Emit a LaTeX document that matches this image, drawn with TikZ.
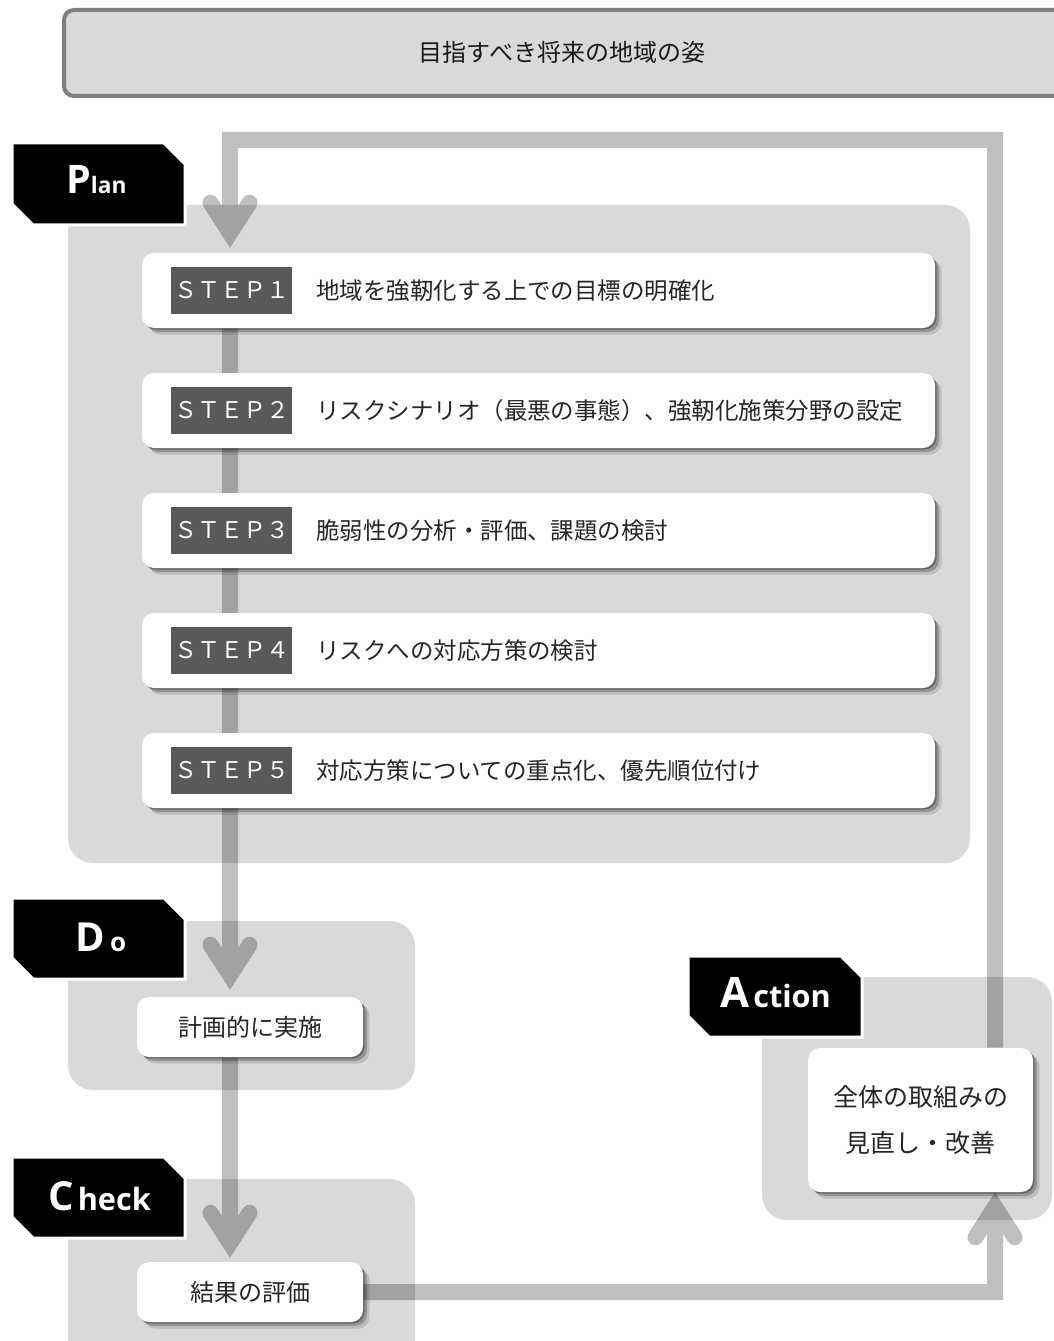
\documentclass[tikz,border=0pt]{standalone}
\usepackage{fontspec}
\setmainfont{Noto Sans CJK JP}
\newfontfamily\labfont{Open Sans}
\usetikzlibrary{shadows}
\pgfdeclarelayer{bg}
\pgfdeclarelayer{arw}
\pgfsetlayers{bg,arw,main}
\definecolor{panelgray}{HTML}{D9D9D9}
\definecolor{titleborder}{HTML}{7F7F7F}
\definecolor{stepgray}{HTML}{595959}
\definecolor{txt}{HTML}{262626}
\tikzset{
  whitebox/.style={fill=white, rounded corners=9pt, inner sep=0pt, text=txt,
    drop shadow={shadow xshift=1.2pt, shadow yshift=-1.2pt, opacity=.3, fill=black},
    drop shadow={shadow xshift=3pt, shadow yshift=-3pt, opacity=.22, fill=black},
    drop shadow={shadow xshift=5pt, shadow yshift=-5pt, opacity=.12, fill=black}},
  stepbox/.style={whitebox, minimum width=594.75pt, minimum height=56.25pt},
  steplabel/.style={fill=stepgray, text=white, inner sep=0pt, minimum width=90.75pt,
    minimum height=35.25pt, font=\fontsize{17.25pt}{20pt}\selectfont},
  steptext/.style={anchor=west, inner sep=0pt, text=txt, font=\fontsize{17.6pt}{20pt}\selectfont},
  flowline/.style={draw=black, line width=12pt},
  headdown/.pic={\draw[line width=12pt, line cap=round, line join=miter] (-19.6,-45) -- (0,-14.7) -- (19.6,-45);},
  pdcatext/.style={anchor=base west, inner sep=0pt, text=white},
}
\newcommand\pdcashape[4]{\draw[fill=black, draw=white, line width=2.25pt]
  (#1,#2) -- ({#3-21},#2) -- (#3,{#2+21}) -- (#3,#4) -- ({#1+21},#4) -- (#1,{#4-21}) -- cycle;}
\begin{document}
\begin{tikzpicture}[x=0.75pt,y=-0.75pt]
\path[use as bounding box] (0,0) rectangle (1053,1341);
\begin{pgfonlayer}{bg}
\fill[white] (0,0) rectangle (1053,1341);
\fill[panelgray, rounded corners=18.75pt] (68,205) rectangle (970,863);
\fill[panelgray, rounded corners=18.75pt] (68,921) rectangle (415,1090);
\fill[panelgray, rounded corners=18.75pt] (68,1179) rectangle (415,1380);
\fill[panelgray, rounded corners=18.75pt] (762,977) rectangle (1052,1220);
\end{pgfonlayer}

% title
\draw[fill=panelgray, draw=titleborder, line width=3pt, rounded corners=7.5pt] (64,10) rectangle (1100,96);
\node[text=black!90, font=\fontsize{18pt}{20pt}\selectfont] (goal) at (562,52) {目指すべき将来の地域の姿};

% steps
\node[stepbox] (s1) at (538.5,290.5) {};
\node[steplabel] (l1) at (231.5,290.5) {ＳＴＥＰ１};
\node[steptext] (t1) at (316,290.5) {地域を強靭化する上での目標の明確化};

\node[stepbox] (s2) at (538.5,410.5) {};
\node[steplabel] (l2) at (231.5,410.5) {ＳＴＥＰ２};
\node[steptext] (t2) at (316,410.5) {リスクシナリオ（最悪の事態）、強靭化施策分野の設定};

\node[stepbox] (s3) at (538.5,530.5) {};
\node[steplabel] (l3) at (231.5,530.5) {ＳＴＥＰ３};
\node[steptext] (t3) at (316,530.5) {脆弱性の分析・評価、課題の検討};

\node[stepbox] (s4) at (538.5,650.5) {};
\node[steplabel] (l4) at (231.5,650.5) {ＳＴＥＰ４};
\node[steptext] (t4) at (316,650.5) {リスクへの対応方策の検討};

\node[stepbox] (s5) at (538.5,770.5) {};
\node[steplabel] (l5) at (231.5,770.5) {ＳＴＥＰ５};
\node[steptext] (t5) at (316,770.5) {対応方策についての重点化、優先順位付け};

% Do / Check / Action boxes
\node[whitebox, minimum width=169.5pt, minimum height=45pt, font=\fontsize{18pt}{20pt}\selectfont] (do) at (250,1027) {計画的に実施};
\node[whitebox, minimum width=169.5pt, minimum height=45pt, font=\fontsize{18pt}{20pt}\selectfont] (check) at (250,1292) {結果の評価};
\node[whitebox, minimum width=168.75pt, minimum height=108pt, align=center, font=\fontsize{18.75pt}{34.5pt}\selectfont] (act) at (920.5,1120) {全体の取組みの\\見直し・改善};

% arrows
\begin{pgfonlayer}{arw}
\begin{scope}[transparency group, opacity=0.25]
\coordinate (loopR) at (995,140);
\coordinate (loopL) at (230,140);
\draw[flowline] (act.north -| loopR) -- (loopR) -- (loopL) -- ([yshift=15pt]s1.north -| loopL);
\pic at ([yshift=3.75pt]s1.north -| loopL) {headdown};
\draw[flowline] (s1.south -| loopL) -- ([yshift=15pt]do.north -| loopL);
\pic at ([yshift=5.25pt]do.north -| loopL) {headdown};
\draw[flowline] (do.south -| loopL) -- ([yshift=15pt]check.north -| loopL);
\pic at ([yshift=3pt]check.north -| loopL) {headdown};
\draw[flowline] (check.east) -- (check.east -| loopR) -- ([yshift=-15pt]act.south -| loopR);
\pic[rotate=180] at (act.south -| loopR) {headdown};
\end{scope}
\end{pgfonlayer}

% PDCA labels
\pdcashape{12}{143}{185}{225}
\node[pdcatext, font=\labfont\bfseries] (planL) at (66,194) {{\fontsize{29.5pt}{31pt}\selectfont P}{\fontsize{17pt}{19pt}\selectfont lan}};
\pdcashape{12}{898}{185}{979}
\node[pdcatext, font=\labfont\bfseries] (doL) at (75,951) {{\fontsize{30pt}{32pt}\selectfont D}\hspace{4pt}{\fontsize{19.5pt}{22pt}\selectfont o}};
\pdcashape{12}{1157}{185}{1238}
\node[pdcatext, font=\labfont\bfseries] (checkL) at (48,1210) {{\fontsize{30pt}{32pt}\selectfont C}\hspace{3pt}{\fontsize{23pt}{25pt}\selectfont heck}};
\pdcashape{688}{956}{862}{1037}
\node[pdcatext, font=\labfont\bfseries] (actL) at (720,1007) {{\fontsize{31.5pt}{33pt}\selectfont A}\hspace{3pt}{\fontsize{23pt}{25pt}\selectfont ction}};
\end{tikzpicture}
\end{document}
